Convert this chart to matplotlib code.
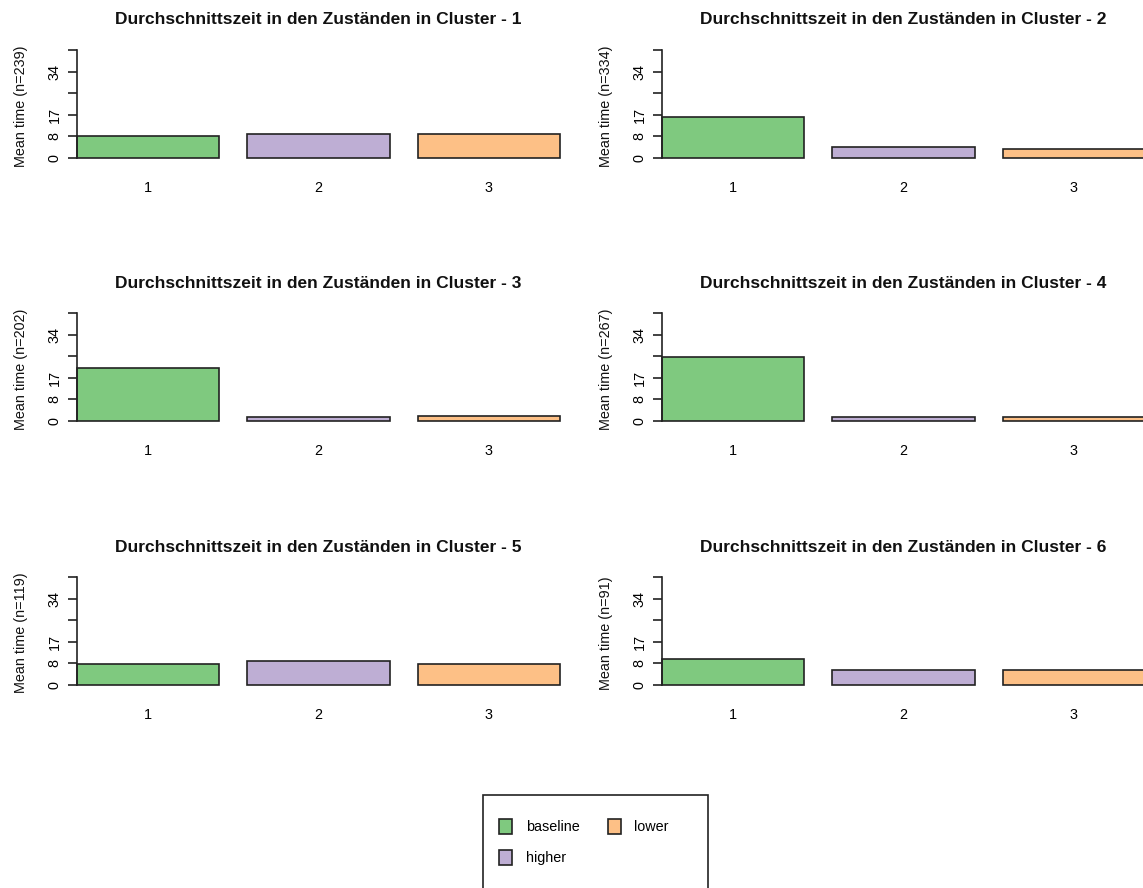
import matplotlib
matplotlib.use("Agg")
import matplotlib.pyplot as plt
from matplotlib.patches import Patch, Rectangle

plt.rcParams['font.family'] = ['Liberation Sans', 'DejaVu Sans']

states = ["baseline", "higher", "lower"]
state_colors = ["#7FC97F", "#BEAED4", "#FDC086"]
bar_labels = ["1", "2", "3"]
clusters = [1, 2, 3, 4, 5, 6]
n_seq = [239, 334, 202, 267, 119, 91]
mean_times = [
    [8.5, 9.45, 9.45],
    [16.3, 4.3, 3.7],
    [20.9, 1.6, 2.1],
    [25.3, 1.6, 1.45],
    [8.4, 9.5, 8.4],
    [10.1, 5.9, 5.9],
]
y_ticks = [0, 8.5, 17, 25.5, 34, 42.5]
y_ticklabels = ["0", "8", "17", "", "34", ""]

W, H = 1143, 888
fig = plt.figure(figsize=(W / 100, H / 100), dpi=100)

col_x = [77, 662]
row_base = [158, 421, 685]
ax_w = 483
ax_h = 108
fs = 10.4
edge = "#222222"

for i, (cl, n, vals) in enumerate(zip(clusters, n_seq, mean_times)):
    r, c = divmod(i, 2)
    x0 = col_x[c]
    yb = row_base[r]
    ax = fig.add_axes([x0 / W, (H - yb) / H, ax_w / W, ax_h / H])
    lefts = [0.2 + k * 1.2 for k in range(len(vals))]
    ax.bar(lefts, vals, width=1.0, align='edge', color=state_colors,
           edgecolor=edge, linewidth=1.2, clip_on=False)
    ax.set_xlim(0.2, 3.6)
    ax.set_ylim(0, 42.5)
    for s in ["top", "right", "bottom"]:
        ax.spines[s].set_visible(False)
    ax.spines["left"].set_linewidth(1.2)
    ax.spines["left"].set_color(edge)
    ax.set_yticks(y_ticks)
    ax.set_yticklabels(y_ticklabels, rotation=90, va="center", fontsize=fs)
    ax.tick_params(axis="y", length=6.2, width=1.2, pad=5, color=edge)
    ax.set_xticks([l + 0.5 for l in lefts])
    ax.set_xticklabels(bar_labels, fontsize=fs)
    ax.tick_params(axis="x", length=0, pad=16.5)
    cx = (x0 + ax_w / 2) / W
    fig.text(cx, (H - (yb - 138)) / H,
             f"Durchschnittszeit in den Zuständen in Cluster - {cl}",
             ha="center", va="center", fontsize=12.5, fontweight="bold",
             color="#111111")
    fig.text((x0 - 56) / W, (H - (yb - 52)) / H, f"Mean time (n={n})",
             rotation=90, ha="center", va="center", fontsize=fs,
             color="#111111")

# legend frame
fig.patches.append(Rectangle((483 / W, (H - 895) / H), 225 / W, 100 / H,
                             transform=fig.transFigure, fill=False,
                             edgecolor=edge, linewidth=1.2))
handles = [Patch(facecolor=col, edgecolor=edge, linewidth=1.2, label=s)
           for s, col in zip(states, state_colors)]
fig.legend(handles=handles, ncol=2, frameon=False, fontsize=fs,
           loc="upper left", bbox_to_anchor=(499 / W, (H - 819) / H),
           handlelength=0.9, handleheight=1.2, handletextpad=0.95,
           columnspacing=1.95, labelspacing=1.1, borderaxespad=0,
           borderpad=0)

fig.savefig("out.png", dpi=100)
